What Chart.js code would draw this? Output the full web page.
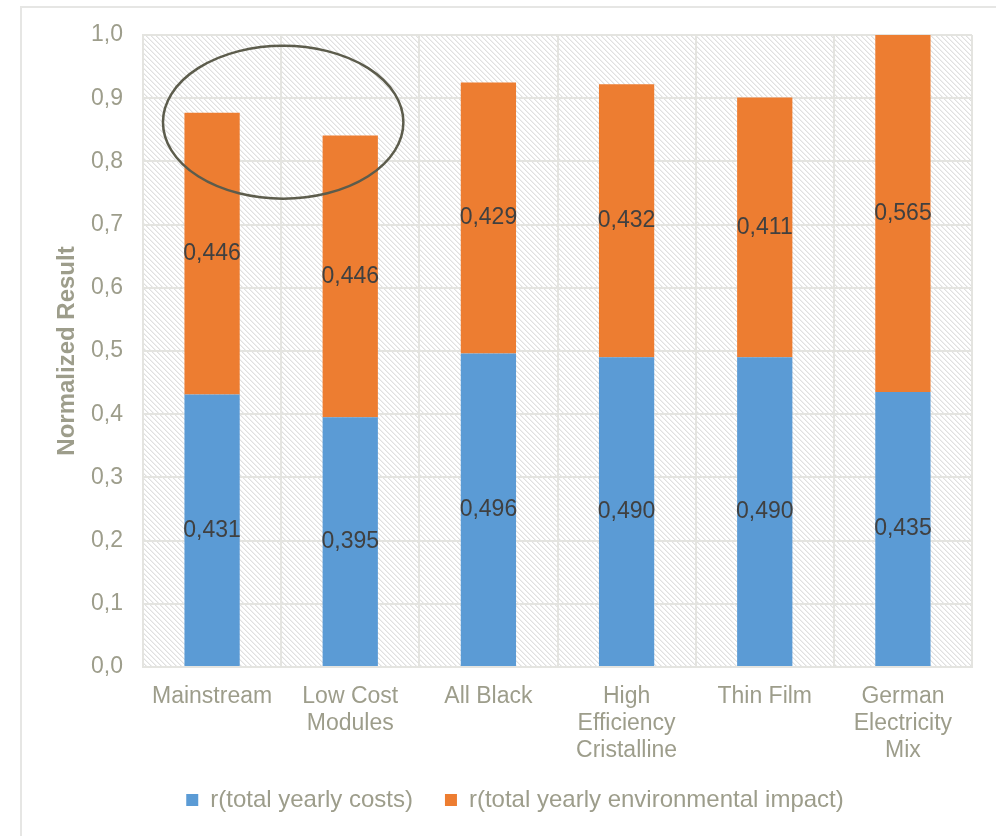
<!DOCTYPE html>
<html>
<head>
<meta charset="utf-8">
<title>Normalized Result</title>
<script src="https://cdn.jsdelivr.net/npm/chart.js@4.4.1/dist/chart.umd.min.js"></script>
<style>
    html, body { margin: 0; padding: 0; background: #fff; }
    #wrap { position: relative; width: 996px; height: 836px; overflow: hidden; }
    #frame {
        position: absolute; left: 20px; top: 6px; width: 1000px; height: 900px;
        border-left: 2px solid #e6e6e4; border-top: 2px solid #e6e6e4;
    }
    #chart { position: absolute; left: 0; top: 0; }
</style>
</head>
<body>
<div id="wrap">
    <div id="frame"></div>
    <canvas id="chart" width="996" height="836"></canvas>
</div>
<script>
// Scenario categories and the two stacked shares
const categories = [
    'Mainstream',
    ['Low Cost', 'Modules'],
    'All Black',
    ['High', 'Efficiency', 'Cristalline'],
    'Thin Film',
    ['German', 'Electricity', 'Mix']
];
const yearlyCosts = [0.431, 0.395, 0.496, 0.490, 0.490, 0.435];
const yearlyImpact = [0.446, 0.446, 0.429, 0.432, 0.411, 0.565];
const seriesNames = ['r(total yearly costs)', 'r(total yearly environmental impact)'];
const yTicks = [0, 0.1, 0.2, 0.3, 0.4, 0.5, 0.6, 0.7, 0.8, 0.9, 1.0];

const textGray = '#9d9d8b';
const gridGray = '#e4e4e0';
const fontFamily = "'Liberation Sans', Arial, sans-serif";

// Diagonal hatch used behind the bars
const makeHatch = (ctx) => {
    const tile = document.createElement('canvas');
    tile.width = 5;
    tile.height = 5;
    const t = tile.getContext('2d');
    t.fillStyle = '#ffffff';
    t.fillRect(0, 0, 5, 5);
    for (let i = 0; i < 5; i++) {
        t.fillStyle = '#e0e0e0';
        t.fillRect(i, i, 1, 1);
        t.fillStyle = '#f0f0f0';
        t.fillRect((i + 1) % 5, i, 1, 1);
    }
    return ctx.createPattern(tile, 'repeat');
};

const hatchPlugin = {
    id: 'hatchBackground',
    beforeDraw(chart) {
        const { ctx, chartArea: a } = chart;
        ctx.save();
        ctx.fillStyle = makeHatch(ctx);
        ctx.fillRect(a.left, a.top, a.right - a.left, a.bottom - a.top);
        ctx.restore();
    }
};

// Value labels in the middle of every segment, decimal comma
const valueLabelPlugin = {
    id: 'valueLabels',
    afterDatasetsDraw(chart) {
        const { ctx } = chart;
        ctx.save();
        ctx.font = `23px ${fontFamily}`;
        ctx.fillStyle = '#404040';
        ctx.textAlign = 'center';
        ctx.textBaseline = 'middle';
        chart.data.datasets.forEach((ds, di) => {
            chart.getDatasetMeta(di).data.forEach((bar, i) => {
                const txt = ds.data[i].toFixed(3).replace('.', ',');
                ctx.fillText(txt, bar.x, (bar.y + bar.base) / 2);
            });
        });
        ctx.restore();
    }
};

// Move the legend a bit right and up so the three-line labels keep their room
const legendShiftPlugin = {
    id: 'legendShift',
    afterLayout(chart) {
        const lg = chart.legend;
        if (!lg) return;
        lg.left += 19;
        lg.right += 19;
        lg.top -= 12;
        lg.bottom -= 12;
    }
};

// Ellipse highlighting the first two scenarios, placed in scale units
const highlight = { fromIndex: 0, toIndex: 1, centerValue: 0.862, halfHeight: 0.121, halfWidth: 0.87 };

const ellipsePlugin = {
    id: 'highlightEllipse',
    afterDraw(chart) {
        const x = chart.scales.x;
        const y = chart.scales.y;
        const x0 = x.getPixelForValue(highlight.fromIndex);
        const x1 = x.getPixelForValue(highlight.toIndex);
        const step = x1 - x0;
        const cx = (x0 + x1) / 2 + 2;
        const cy = y.getPixelForValue(highlight.centerValue);
        const ry = Math.abs(y.getPixelForValue(highlight.centerValue + highlight.halfHeight) - cy);
        const { ctx } = chart;
        ctx.save();
        ctx.strokeStyle = '#5c5c4c';
        ctx.lineWidth = 2.5;
        ctx.beginPath();
        ctx.ellipse(cx, cy, step * highlight.halfWidth, ry, 0, 0, Math.PI * 2);
        ctx.stroke();
        ctx.restore();
    }
};

new Chart(document.getElementById('chart'), {
    type: 'bar',
    data: {
        labels: categories,
        datasets: [
            {
                label: seriesNames[0],
                data: yearlyCosts,
                backgroundColor: '#5b9bd5',
                barPercentage: 0.4,
                categoryPercentage: 1
            },
            {
                label: seriesNames[1],
                data: yearlyImpact,
                backgroundColor: '#ed7d31',
                barPercentage: 0.4,
                categoryPercentage: 1
            }
        ]
    },
    options: {
        responsive: false,
        animation: false,
        devicePixelRatio: 1,
        layout: { padding: { left: 20, right: 24, top: 35, bottom: 2 } },
        plugins: {
            tooltip: { enabled: false },
            legend: {
                position: 'bottom',
                labels: {
                    boxWidth: 12,
                    boxHeight: 12,
                    padding: 32,
                    color: textGray,
                    font: { family: fontFamily, size: 24 }
                }
            }
        },
        scales: {
            x: {
                stacked: true,
                grid: { color: gridGray, lineWidth: 2, offset: true, drawTicks: false },
                border: { color: gridGray, width: 2 },
                ticks: {
                    color: textGray,
                    padding: 16,
                    maxRotation: 0,
                    font: { family: fontFamily, size: 23, lineHeight: 1.17 }
                },
                afterFit(scale) { scale.height = 101; }
            },
            y: {
                stacked: true,
                min: 0,
                max: 1,
                afterBuildTicks(scale) { scale.ticks = yTicks.map(v => ({ value: v })); },
                grid: { color: gridGray, lineWidth: 2, drawTicks: false },
                border: { color: gridGray, width: 2 },
                ticks: {
                    color: textGray,
                    padding: 20,
                    font: { family: fontFamily, size: 23 },
                    callback: (v) => v.toFixed(1).replace('.', ',')
                },
                title: {
                    display: true,
                    text: 'Normalized Result',
                    color: textGray,
                    padding: { top: 33, bottom: 0 },
                    font: { family: fontFamily, size: 24, weight: 'bold' }
                },
                afterFit(scale) { scale.width = 123; }
            }
        }
    },
    plugins: [hatchPlugin, valueLabelPlugin, legendShiftPlugin, ellipsePlugin]
});
</script>
</body>
</html>
